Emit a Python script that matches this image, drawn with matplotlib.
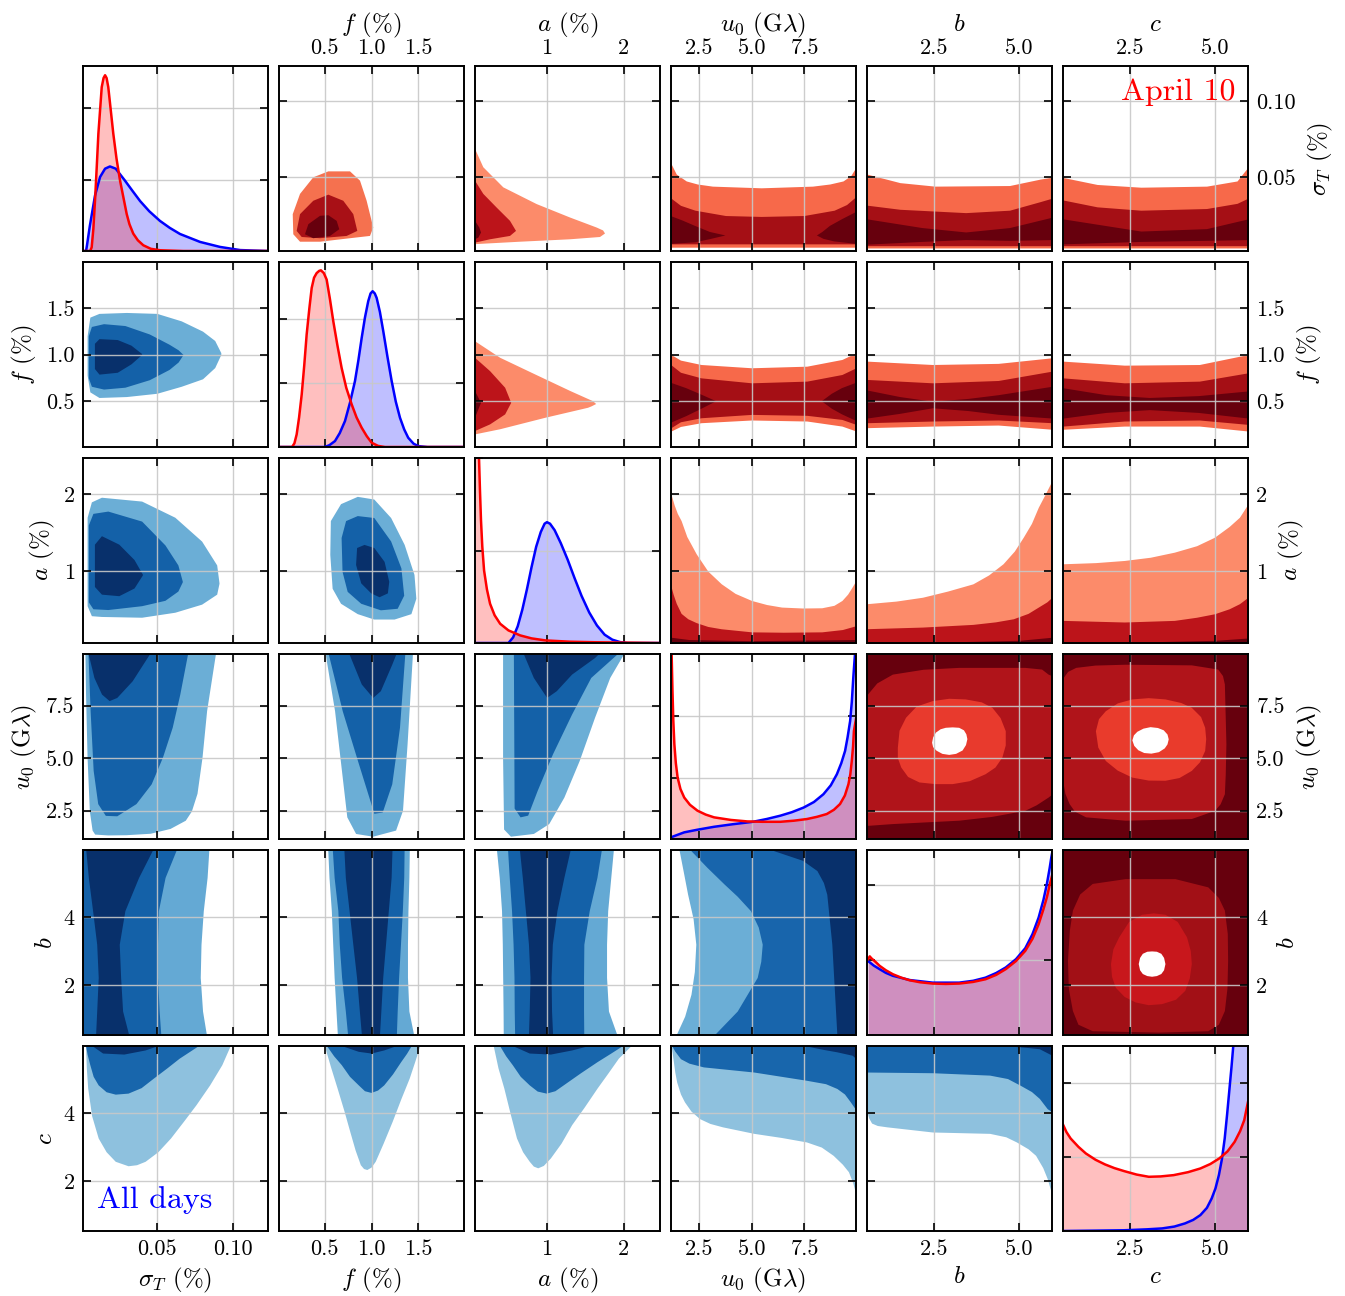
import matplotlib.pyplot as plt

plt.rcParams['font.family'] = 'serif'
plt.rcParams['font.serif'] = ['cmr10']
plt.rcParams['mathtext.fontset'] = 'cm'
plt.rcParams['axes.formatter.use_mathtext'] = True

# ---- parameters -------------------------------------------------------------
param_labels = [r'$\sigma_T$ (%)', r'$f$ (%)', r'$a$ (%)', r'$u_0$ (G$\lambda$)', r'$b$', r'$c$']
param_limits = [(0.0015, 0.123), (0.01, 1.99), (0.065, 2.47), (1.15, 9.95), (0.55, 5.95), (0.55, 5.95)]
x_tick_values = [[0.05, 0.10], [0.5, 1.0, 1.5], [1, 2], [2.5, 5.0, 7.5], [2.5, 5.0], [2.5, 5.0]]
x_tick_labels = [['0.05', '0.10'], ['0.5', '1.0', '1.5'], ['1', '2'], ['2.5', '5.0', '7.5'], ['2.5', '5.0'], ['2.5', '5.0']]
y_tick_values = [[0.05, 0.10], [0.5, 1.0, 1.5], [1, 2], [2.5, 5.0, 7.5], [2, 4], [2, 4]]
y_tick_labels = [['0.05', '0.10'], ['0.5', '1.0', '1.5'], ['1', '2'], ['2.5', '5.0', '7.5'], ['2', '4'], ['2', '4']]
diag_tick_values = [[0.386, 0.772], [0.345, 0.69], [0.5, 1.0], [0.332, 0.664], [0.404, 0.81], [0.40, 0.80]]

# ---- 1D marginals (x, height as fraction of panel) ---------------------------
sig_all = ([0.0015, 0.0035, 0.0041, 0.006, 0.0094, 0.0127, 0.0160, 0.0192, 0.0230, 0.0291, 0.034, 0.039, 0.045,
            0.052, 0.0585, 0.0652, 0.0784, 0.0915, 0.1047, 0.123],
           [0, 0, 0.03, 0.136, 0.30, 0.40, 0.445, 0.457, 0.445, 0.38, 0.325, 0.27, 0.215,
            0.163, 0.125, 0.092, 0.049, 0.022, 0.005, 0])
sig_apr = ([0.0015, 0.0062, 0.0072, 0.0083, 0.0094, 0.0105, 0.0116, 0.0138, 0.015, 0.016, 0.017, 0.0181, 0.0214,
            0.0235, 0.0258, 0.0302, 0.032, 0.0345, 0.0375, 0.0411, 0.046, 0.0521, 0.0674, 0.123],
           [0, 0, 0.02, 0.12, 0.274, 0.45, 0.634, 0.886, 0.935, 0.95, 0.935, 0.886, 0.634,
            0.50, 0.382, 0.20, 0.145, 0.094, 0.058, 0.031, 0.012, 0.004, 0.0, 0.0])
f_all = ([0.01, 0.50, 0.55, 0.609, 0.66, 0.716, 0.77, 0.823, 0.86, 0.895, 0.93, 0.965, 0.99, 1.012, 1.035, 1.055,
          1.09, 1.126, 1.17, 1.216, 1.26, 1.305, 1.35, 1.393, 1.45, 1.50, 1.60, 1.99],
         [0, 0, 0.01, 0.032, 0.075, 0.14, 0.24, 0.356, 0.47, 0.59, 0.70, 0.788, 0.83, 0.842, 0.83, 0.806,
          0.73, 0.626, 0.49, 0.356, 0.245, 0.158, 0.095, 0.05, 0.018, 0.005, 0, 0])
f_apr = ([0.01, 0.15, 0.175, 0.199, 0.225, 0.253, 0.28, 0.306, 0.335, 0.36, 0.385, 0.413, 0.44, 0.459, 0.49, 0.52,
          0.555, 0.591, 0.635, 0.68, 0.73, 0.788, 0.84, 0.895, 0.95, 1.002, 1.07, 1.144, 1.99],
         [0, 0, 0.02, 0.068, 0.16, 0.284, 0.44, 0.608, 0.75, 0.86, 0.915, 0.94, 0.952, 0.955, 0.94, 0.905,
          0.80, 0.68, 0.55, 0.428, 0.32, 0.23, 0.16, 0.104, 0.058, 0.023, 0.006, 0, 0])
a_all = ([0.065, 0.50, 0.56, 0.62, 0.68, 0.74, 0.80, 0.86, 0.92, 0.97, 1.0, 1.04, 1.10, 1.18, 1.27, 1.36, 1.45,
          1.55, 1.65, 1.75, 1.85, 1.95, 2.05, 2.47],
         [0, 0, 0.03, 0.09, 0.18, 0.29, 0.41, 0.52, 0.60, 0.645, 0.653, 0.645, 0.61, 0.54, 0.45, 0.35, 0.255,
          0.165, 0.095, 0.045, 0.018, 0.005, 0, 0])
a_apr = ([0.065, 0.09, 0.117, 0.13, 0.143, 0.16, 0.183, 0.22, 0.261, 0.32, 0.392, 0.50, 0.653, 0.80, 0.98, 1.3,
          1.633, 2.47],
         [1.6, 1.25, 1.0, 0.82, 0.662, 0.52, 0.392, 0.29, 0.212, 0.15, 0.104, 0.068, 0.041, 0.025, 0.014, 0.007,
          0.004, 0.0])
u0_all = ([1.15, 1.4, 1.78, 2.4, 3.2, 4.1, 5.05, 5.7, 6.35, 6.9, 7.46, 7.95, 8.40, 8.75, 9.04, 9.25, 9.43, 9.55,
           9.67, 9.75, 9.82, 9.87, 9.90, 9.95],
          [0.009, 0.02, 0.036, 0.05, 0.066, 0.08, 0.093, 0.108, 0.126, 0.145, 0.17, 0.20, 0.242, 0.29, 0.35, 0.41,
           0.476, 0.55, 0.637, 0.74, 0.87, 0.95, 0.996, 1.1])
u0_apr = ([1.15, 1.18, 1.22, 1.26, 1.31, 1.38, 1.465, 1.6, 1.78, 2.05, 2.41, 2.8, 3.2, 4.0, 4.78, 5.5, 6.35, 7.0,
           7.62, 8.1, 8.56, 8.9, 9.19, 9.42, 9.59, 9.68, 9.75, 9.81, 9.85, 9.95],
          [1.3, 1.0, 0.80, 0.64, 0.512, 0.41, 0.332, 0.27, 0.224, 0.185, 0.153, 0.132, 0.117, 0.103, 0.095, 0.093,
           0.093, 0.099, 0.108, 0.12, 0.135, 0.158, 0.189, 0.235, 0.296, 0.35, 0.422, 0.50, 0.583, 0.65])
b_all = ([0.58, 0.75, 0.918, 1.1, 1.305, 1.8, 2.47, 3.24, 3.65, 4.01, 4.32, 4.60, 4.9, 5.17, 5.38, 5.56, 5.70,
          5.80, 5.88, 5.93, 5.95],
         [0.40, 0.375, 0.356, 0.336, 0.32, 0.297, 0.283, 0.283, 0.293, 0.31, 0.335, 0.365, 0.41, 0.469, 0.545,
          0.635, 0.73, 0.816, 0.90, 0.96, 0.98])
b_apr = ([0.58, 0.63, 0.676, 0.8, 0.918, 1.1, 1.305, 1.55, 1.79, 2.1, 2.47, 2.85, 3.24, 3.65, 4.01, 4.32, 4.60,
          4.9, 5.17, 5.38, 5.56, 5.70, 5.80, 5.88, 5.95],
         [0.41, 0.425, 0.415, 0.395, 0.374, 0.35, 0.3285, 0.31, 0.296, 0.285, 0.278, 0.276, 0.278, 0.287, 0.3014,
          0.325, 0.356, 0.40, 0.455, 0.52, 0.599, 0.68, 0.744, 0.81, 0.86])
c_all = ([0.55, 1.5, 2.33, 3.0, 3.445, 3.8, 4.11, 4.35, 4.56, 4.75, 4.89, 5.0, 5.1, 5.19, 5.27, 5.34, 5.41, 5.47,
          5.52, 5.58, 5.7, 5.95],
         [0.0, 0.002, 0.004, 0.009, 0.014, 0.024, 0.041, 0.06, 0.086, 0.125, 0.176, 0.23, 0.302, 0.39, 0.50, 0.63,
          0.77, 0.89, 1.0, 1.12, 1.35, 1.8])
c_apr = ([0.55, 0.65, 0.773, 1.0, 1.218, 1.5, 1.775, 2.05, 2.33, 2.7, 3.055, 3.4, 3.78, 4.2, 4.56, 4.85, 5.11,
          5.35, 5.56, 5.72, 5.84, 5.95],
         [0.5755, 0.535, 0.50, 0.455, 0.419, 0.385, 0.36, 0.34, 0.324, 0.305, 0.293, 0.295, 0.302, 0.318, 0.338,
          0.362, 0.392, 0.43, 0.482, 0.54, 0.599, 0.698])

# ---- All days (blue), lower triangle ----------------------------------------
# bands along x: (x, lower y, upper y)
f_sig_light = ([0.0042, 0.006, 0.012, 0.03, 0.05, 0.066, 0.08, 0.088, 0.092],
               [0.78, 0.60, 0.54, 0.55, 0.585, 0.66, 0.74, 0.86, 1.00],
               [1.20, 1.40, 1.44, 1.45, 1.44, 1.36, 1.25, 1.15, 1.02])
f_sig_mid = ([0.0050, 0.007, 0.015, 0.029, 0.045, 0.058, 0.064, 0.0672],
             [0.75, 0.66, 0.63, 0.65, 0.73, 0.84, 0.92, 1.00],
             [1.20, 1.30, 1.33, 1.31, 1.22, 1.11, 1.05, 1.00])
f_sig_dark = ([0.009, 0.012, 0.024, 0.033, 0.040],
              [0.85, 0.79, 0.81, 0.90, 1.00],
              [1.12, 1.17, 1.16, 1.10, 1.01])

a_sig_light = ([0.0042, 0.007, 0.0136, 0.040, 0.0618, 0.0794, 0.0893, 0.0908],
               [0.55, 0.42, 0.41, 0.40, 0.465, 0.57, 0.70, 0.84],
               [1.70, 1.90, 1.96, 1.91, 1.70, 1.39, 1.08, 0.85])
a_sig_mid = ([0.0050, 0.008, 0.0178, 0.040, 0.0553, 0.0638, 0.0667],
             [0.60, 0.51, 0.50, 0.55, 0.62, 0.74, 0.86],
             [1.60, 1.75, 1.78, 1.65, 1.34, 1.08, 0.87])
a_sig_dark = ([0.0090, 0.0136, 0.025, 0.035, 0.0405],
              [0.80, 0.70, 0.68, 0.78, 0.95],
              [1.35, 1.46, 1.35, 1.15, 0.96])

# closed outlines: (x, y)
a_f_light = ([0.674, 0.853, 1.03, 1.21, 1.355, 1.46, 1.48, 1.427, 1.247, 1.03, 0.853, 0.674, 0.584, 0.559, 0.565],
             [1.87, 1.965, 1.93, 1.69, 1.34, 0.95, 0.64, 0.44, 0.37, 0.37, 0.44, 0.575, 0.77, 1.21, 1.65])
a_f_mid = ([0.853, 1.03, 1.21, 1.32, 1.35, 1.28, 1.10, 0.89, 0.745, 0.69, 0.68, 0.728],
           [1.715, 1.69, 1.385, 1.035, 0.68, 0.51, 0.49, 0.575, 0.73, 0.99, 1.43, 1.65])
a_f_dark = ([0.925, 1.03, 1.14, 1.19, 1.175, 1.086, 0.997, 0.89, 0.835, 0.846],
            [1.34, 1.30, 1.12, 0.86, 0.71, 0.66, 0.71, 0.84, 1.08, 1.30])

u0_sig_light = ([0.003, 0.090, 0.083, 0.080, 0.0767, 0.073, 0.069, 0.059, 0.046, 0.030, 0.018, 0.0095, 0.0078,
                 0.006, 0.0045, 0.0035],
                [10.5, 10.5, 7.23, 5.02, 3.30, 2.46, 2.02, 1.63, 1.40, 1.33, 1.32, 1.36, 1.55, 2.46, 5.0, 8.0])
u0_sig_mid = ([0.0048, 0.072, 0.0654, 0.0604, 0.054, 0.0466, 0.0366, 0.024, 0.0165, 0.0115, 0.0085, 0.0065],
              [10.5, 10.5, 8.02, 6.44, 5.02, 3.75, 2.81, 2.23, 2.25, 2.81, 4.39, 7.23])
u0_sig_dark = ([0.003, 0.0505, 0.0341, 0.024, 0.019, 0.014, 0.009, 0.0053],
               [10.5, 10.5, 8.65, 7.86, 7.71, 8.02, 8.81, 9.92])

u0_f_light = ([0.50, 0.61, 0.692, 0.741, 0.835, 1.018, 1.263, 1.337, 1.386, 1.447],
              [10.2, 7.23, 4.07, 2.18, 1.39, 1.26, 1.55, 2.49, 5.65, 10.2])
u0_f_mid = ([0.528, 0.692, 0.855, 0.977, 1.03, 1.12, 1.222, 1.305, 1.366],
            [10.2, 7.23, 4.86, 3.12, 2.35, 2.41, 3.75, 6.44, 10.2])
u0_f_dark = ([0.74, 0.896, 1.018, 1.10, 1.222, 1.29],
             [10.2, 8.5, 7.86, 8.18, 9.44, 10.2])

u0_a_light = ([0.43, 0.43, 0.443, 0.532, 0.83, 1.03, 1.227, 1.426, 1.626, 1.823, 2.0, 2.05],
              [10.2, 5.0, 1.6, 1.26, 1.39, 1.86, 3.12, 4.86, 6.92, 8.81, 9.92, 10.2])
u0_a_mid = ([0.57, 0.58, 0.657, 0.756, 0.88, 1.079, 1.327, 1.576, 1.924, 1.95],
            [10.2, 2.6, 2.18, 2.26, 3.44, 5.18, 7.07, 8.81, 9.95, 10.2])
u0_a_dark = ([0.67, 0.83, 1.003, 1.128, 1.327, 1.626, 1.75],
             [10.2, 8.81, 7.86, 8.18, 8.97, 9.76, 10.2])

# bands along y: (y, left x, right x)
b_rows = [0.3, 1.25, 2.23, 3.20, 4.18, 5.15, 6.2]
b_sig_light = (b_rows, 0.0, [0.0835, 0.080, 0.0785, 0.079, 0.0805, 0.083, 0.0845])
b_sig_mid = (b_rows, 0.0, [0.053, 0.0515, 0.0505, 0.0505, 0.051, 0.0554, 0.065])
b_sig_dark = (b_rows, [0.0095, 0.0105, 0.0115, 0.0105, 0.0078, 0.005, 0.0028],
              [0.033, 0.0275, 0.0262, 0.0253, 0.029, 0.038, 0.050])

b_f_light = (b_rows, [0.64, 0.62, 0.60, 0.585, 0.57, 0.545, 0.528], [1.47, 1.40, 1.385, 1.385, 1.39, 1.40, 1.406])
b_f_mid = (b_rows, [0.753, 0.72, 0.68, 0.655, 0.64, 0.60, 0.575], [1.263, 1.275, 1.29, 1.31, 1.33, 1.345, 1.35])
b_f_dark = (b_rows, [0.90, 0.87, 0.84, 0.80, 0.76, 0.72, 0.70], [1.08, 1.10, 1.12, 1.15, 1.18, 1.21, 1.222])

b_a_light = (b_rows, [0.433, 0.43, 0.425, 0.42, 0.41, 0.38, 0.333], [1.95, 1.80, 1.775, 1.775, 1.79, 1.83, 1.874])
b_a_mid = (b_rows, [0.582, 0.575, 0.572, 0.56, 0.54, 0.51, 0.482], [1.48, 1.476, 1.476, 1.48, 1.55, 1.65, 1.725])
b_a_dark = (b_rows, [0.756, 0.77, 0.78, 0.76, 0.72, 0.68, 0.631], [1.079, 1.06, 1.054, 1.07, 1.13, 1.22, 1.327])

b_u0_light = ([0.3, 0.55, 1.1, 1.74, 2.4, 3.2, 3.95, 4.66, 5.3, 5.93, 6.2],
              [1.3, 1.39, 1.80, 2.10, 2.26, 2.33, 2.20, 1.94, 1.74, 1.54, 1.5], 10.5)
b_u0_mid = ([0.3, 0.55, 1.25, 2.23, 2.7, 3.20, 3.7, 4.18, 4.6, 4.96, 5.45, 5.93, 6.2],
            [3.1, 3.20, 4.30, 5.25, 5.42, 5.49, 5.30, 4.93, 4.30, 3.67, 2.85, 2.10, 1.9], 10.5)
b_u0_dark = ([0.3, 0.55, 3.2, 4.66, 5.0, 5.35, 5.65, 5.93, 6.2],
             [9.1, 9.04, 8.80, 8.56, 8.40, 8.09, 7.40, 6.04, 5.7], 10.5)

c_sig_light = ([0.003, 0.0035, 0.0040, 0.0049, 0.0075, 0.0118, 0.017, 0.023, 0.0314, 0.037, 0.0426, 0.051, 0.0593,
                0.068, 0.076, 0.085, 0.093, 0.101],
               [6.2, 5.95, 5.3, 4.71, 3.9, 3.25, 2.85, 2.57, 2.44, 2.47, 2.57, 2.85, 3.25,
                3.75, 4.22, 4.8, 5.39, 6.2])
c_sig_mid = ([0.003, 0.0035, 0.0045, 0.0063, 0.0085, 0.0118, 0.017, 0.023, 0.0314, 0.040, 0.0481, 0.057, 0.065,
              0.076, 0.086],
             [6.2, 5.95, 5.7, 5.39, 5.05, 4.80, 4.60, 4.53, 4.56, 4.72, 5.0, 5.3, 5.58, 5.90, 6.2])
c_sig_dark = ([0.006, 0.0076, 0.0147, 0.0286, 0.0426, 0.051, 0.053],
              [6.2, 5.95, 5.73, 5.70, 5.82, 5.95, 6.2])

c_f_light = ([0.49, 0.50, 0.57, 0.637, 0.71, 0.773, 0.83, 0.886, 0.92, 0.955, 1.0, 1.045, 1.13, 1.227, 1.32,
              1.409, 1.47, 1.522, 1.53],
             [6.2, 5.95, 5.3, 4.71, 4.05, 3.44, 2.9, 2.47, 2.36, 2.33, 2.40, 2.57, 3.1, 3.74, 4.4,
              5.0, 5.5, 5.95, 6.2])
c_f_mid = ([0.51, 0.523, 0.60, 0.682, 0.77, 0.864, 0.93, 1.0, 1.07, 1.136, 1.23, 1.318, 1.38, 1.431, 1.44],
           [6.2, 5.95, 5.65, 5.39, 5.05, 4.80, 4.63, 4.58, 4.65, 4.80, 5.12, 5.48, 5.72, 5.95, 6.2])
c_f_dark = ([0.68, 0.682, 0.864, 1.0, 1.136, 1.272, 1.28],
            [6.2, 5.95, 5.78, 5.73, 5.82, 5.95, 6.2])

c_a_light = ([0.30, 0.308, 0.37, 0.446, 0.53, 0.611, 0.69, 0.777, 0.83, 0.887, 0.96, 1.052, 1.19, 1.328, 1.49,
              1.659, 1.80, 1.935, 2.101, 2.12],
             [6.2, 5.95, 5.3, 4.71, 3.95, 3.25, 2.85, 2.57, 2.43, 2.38, 2.45, 2.67, 3.1, 3.64, 4.15,
              4.71, 5.15, 5.58, 5.95, 6.2])
c_a_mid = ([0.38, 0.39, 0.47, 0.556, 0.66, 0.777, 0.88, 0.997, 1.11, 1.218, 1.44, 1.659, 1.83, 1.99, 2.0],
           [6.2, 5.95, 5.65, 5.39, 5.05, 4.80, 4.62, 4.56, 4.63, 4.80, 5.15, 5.48, 5.72, 5.95, 6.2])
c_a_dark = ([0.55, 0.556, 0.777, 1.052, 1.328, 1.55, 1.56],
            [6.2, 5.95, 5.73, 5.70, 5.82, 5.95, 6.2])

c_u0_light = ([1.15, 1.33, 1.42, 1.60, 1.79, 2.1, 2.51, 3.0, 3.60, 5.09, 6.4, 7.59, 8.3, 8.86, 9.3, 9.59, 9.80, 9.95],
              [6.0, 5.19, 4.90, 4.55, 4.32, 4.05, 3.83, 3.69, 3.59, 3.40, 3.28, 3.15, 3.0, 2.76, 2.50, 2.28, 1.95, 1.60],
              6.3)
c_u0_mid = ([1.15, 1.33, 1.60, 2.0, 2.69, 5.09, 7.59, 8.5, 9.04, 9.4, 9.68, 9.95],
            [6.0, 5.8, 5.58, 5.45, 5.34, 5.19, 4.95, 4.85, 4.71, 4.55, 4.32, 4.08], 6.3)
c_u0_dark = ([7.0, 7.59, 8.4, 9.04, 9.77, 9.95], [6.2, 5.95, 5.85, 5.78, 5.68, 5.58], 6.3)

c_b_light = ([0.55, 0.6, 0.684, 0.85, 1.13, 2.46, 4.13, 4.6, 4.91, 5.25, 5.47, 5.68, 5.81, 5.95],
             [4.03, 3.85, 3.70, 3.63, 3.59, 3.44, 3.40, 3.30, 3.15, 2.95, 2.76, 2.40, 2.08, 1.60], 6.3)
c_b_mid = ([0.55, 2.46, 4.13, 4.65, 5.03, 5.35, 5.58, 5.81, 5.95],
           [5.19, 5.17, 5.10, 5.00, 4.80, 4.62, 4.42, 4.12, 4.03], 6.3)
c_b_dark = ([4.5, 4.69, 5.2, 5.58, 5.95], [6.2, 5.95, 5.91, 5.87, 5.68], 6.3)

# ---- April 10 (red), upper triangle -----------------------------------------
sig_f_light = ([0.163, 0.157, 0.235, 0.377, 0.538, 0.77, 0.877, 0.948, 1.019, 0.984, 0.77, 0.449, 0.235],
               [0.0125, 0.0257, 0.039, 0.0499, 0.0538, 0.0538, 0.0477, 0.0345, 0.0169, 0.0114, 0.0099, 0.0076, 0.0076])
sig_f_mid = ([0.199, 0.235, 0.377, 0.538, 0.698, 0.805, 0.848, 0.734, 0.449, 0.253],
             [0.0147, 0.0257, 0.0345, 0.0385, 0.0345, 0.0257, 0.0147, 0.0114, 0.0099, 0.0107])
sig_f_dark = ([0.288, 0.324, 0.449, 0.538, 0.627, 0.655, 0.556, 0.377],
              [0.0125, 0.0191, 0.0246, 0.025, 0.0213, 0.0158, 0.0114, 0.0099])

sig_a_light = ([0.0, 0.065, 0.173, 0.433, 0.867, 1.30, 1.647, 1.73, 1.755, 1.69, 1.30, 0.65, 0.173, 0.065, 0.0],
               [0.0686, 0.0686, 0.0565, 0.0433, 0.0323, 0.0235, 0.0169, 0.0150, 0.0130, 0.0107, 0.0092, 0.0076,
                0.0063, 0.006, 0.006])
sig_a_mid = ([0.0, 0.065, 0.173, 0.347, 0.52, 0.598, 0.52, 0.26, 0.065, 0.0],
             [0.0477, 0.0477, 0.039, 0.030, 0.0213, 0.0147, 0.0114, 0.0092, 0.0070, 0.0070])
sig_a_dark = ([0.0, 0.065, 0.121, 0.143, 0.108, 0.065, 0.0],
              [0.0213, 0.0213, 0.0169, 0.0136, 0.0103, 0.0092, 0.0092])

sig_u0_light = ([1.15, 1.4, 1.875, 2.4, 3.12, 5.44, 7.88, 8.7, 9.33, 9.7, 9.95], 0.004,
                [0.0589, 0.052, 0.0475, 0.0455, 0.0441, 0.043, 0.0441, 0.0455, 0.0475, 0.051, 0.0566])
sig_u0_mid = ([1.15, 1.6, 2.29, 3.74, 5.44, 7.47, 8.91, 9.5, 9.95], 0.0062,
              [0.0362, 0.0315, 0.0283, 0.0248, 0.0242, 0.0248, 0.0283, 0.032, 0.0373])
sig_u0_dark_left = ([1.0, 1.15, 1.7, 2.29, 3.0, 3.74, 3.0, 2.29, 1.15, 1.0],
                    [0.0244, 0.0244, 0.0215, 0.0180, 0.0140, 0.0117, 0.0093, 0.0072, 0.0062, 0.0062])
sig_u0_dark_right = ([10.2, 9.95, 9.3, 8.71, 8.35, 8.09, 8.4, 8.91, 9.95, 10.2],
                     [0.0271, 0.0271, 0.0225, 0.0180, 0.0140, 0.0117, 0.0095, 0.0078, 0.0062, 0.0062])

sig_b_light = ([0.55, 1.51, 2.53, 4.71, 5.60, 5.95], 0.0035, [0.052, 0.0464, 0.0441, 0.0445, 0.0487, 0.050])
sig_b_mid = ([0.55, 1.51, 3.43, 4.71, 5.60, 5.95], 0.005, [0.0316, 0.0289, 0.0267, 0.0283, 0.0339, 0.0362])
sig_b_dark = ([0.55, 2.15, 3.43, 4.71, 5.95], [0.006, 0.0078, 0.009, 0.0085, 0.009],
              [0.0226, 0.0169, 0.014, 0.0169, 0.0237])

sig_c_light = ([0.55, 1.545, 2.82, 4.74, 5.63, 5.95], 0.0035, [0.0498, 0.0452, 0.0434, 0.0441, 0.0475, 0.0566])
sig_c_mid = ([0.55, 1.545, 2.82, 4.74, 5.63, 5.95], 0.005, [0.035, 0.0305, 0.0283, 0.0294, 0.0328, 0.0362])
sig_c_dark = ([0.55, 2.82, 4.74, 5.95], [0.0062, 0.0078, 0.0085, 0.009], [0.0226, 0.0146, 0.0162, 0.0226])

f_a_light = ([0.0, 0.065, 0.392, 0.849, 1.307, 1.60, 1.64, 1.58, 1.535, 0.98, 0.392, 0.065, 0.0],
             [1.142, 1.142, 0.965, 0.786, 0.608, 0.50, 0.47, 0.445, 0.43, 0.323, 0.20, 0.145, 0.145])
f_a_mid = ([0.0, 0.065, 0.261, 0.457, 0.536, 0.457, 0.261, 0.065, 0.0],
           [0.965, 0.965, 0.822, 0.644, 0.483, 0.359, 0.252, 0.181, 0.181])
f_a_dark = ([0.0, 0.065, 0.143, 0.065, 0.0], [0.608, 0.608, 0.483, 0.323, 0.323])

f_u0_x = [1.15, 1.6, 2.58, 4.98, 7.61, 9.28, 9.95]
f_u0_light = (f_u0_x, [0.181, 0.23, 0.27, 0.299, 0.288, 0.234, 0.181], [1.0, 0.94, 0.893, 0.858, 0.875, 0.947, 1.018])
f_u0_mid = (f_u0_x, [0.217, 0.28, 0.323, 0.359, 0.349, 0.305, 0.252], [0.89, 0.81, 0.75, 0.697, 0.715, 0.786, 0.858])
f_u0_dark_left = ([1.0, 1.15, 1.87, 2.6, 3.30, 2.6, 1.87, 1.15, 1.0],
                  [0.697, 0.697, 0.64, 0.57, 0.50, 0.42, 0.34, 0.27, 0.27])
f_u0_dark_right = ([10.2, 9.95, 9.28, 8.8, 8.32, 8.8, 9.28, 9.95, 10.2],
                   [0.697, 0.697, 0.64, 0.58, 0.50, 0.42, 0.36, 0.29, 0.29])

f_b_x = [0.55, 2.46, 4.38, 5.95]
f_b_light = (f_b_x, [0.217, 0.234, 0.245, 0.20], [0.929, 0.893, 0.905, 0.965])
f_b_mid = (f_b_x, [0.27, 0.288, 0.299, 0.27], [0.733, 0.697, 0.722, 0.822])
f_b_dark = ([0.55, 1.5, 2.46, 3.5, 4.38, 5.95], [0.32, 0.37, 0.43, 0.40, 0.36, 0.32], [0.62, 0.55, 0.50, 0.53, 0.57, 0.66])

f_c_x = [0.55, 2.34, 4.53, 5.95]
f_c_light = (f_c_x, [0.20, 0.234, 0.234, 0.181], [0.929, 0.886, 0.893, 1.0])
f_c_mid = (f_c_x, [0.234, 0.288, 0.299, 0.252], [0.75, 0.697, 0.715, 0.804])
f_c_dark = ([0.55, 1.8, 3.07, 4.5, 5.95], [0.32, 0.38, 0.41, 0.38, 0.32], [0.644, 0.57, 0.54, 0.56, 0.61])

a_u0_light = ([1.15, 1.3, 1.45, 1.63, 1.9, 2.35, 2.9, 3.54, 4.2, 4.98, 5.7, 6.41, 7.4, 8.32, 8.9, 9.28, 9.55, 9.76, 9.95],
              0.0,
              [2.00, 1.86, 1.75, 1.657, 1.45, 1.224, 1.0, 0.835, 0.71, 0.618, 0.565, 0.532, 0.52, 0.523, 0.555,
               0.618, 0.70, 0.791, 0.878])
a_u0_mid = ([1.15, 1.25, 1.4, 1.63, 1.95, 2.35, 2.9, 3.54, 4.98, 6.5, 8.32, 9.3, 9.95], 0.0,
            [0.80, 0.70, 0.58, 0.45, 0.38, 0.33, 0.28, 0.25, 0.21, 0.205, 0.21, 0.24, 0.29])
a_u0_dark = ([1.15, 2.0, 5.0, 9.95], 0.0, [0.14, 0.11, 0.095, 0.11])

a_b_light = ([0.55, 1.4, 2.17, 2.9, 3.64, 4.1, 4.52, 4.85, 5.11, 5.35, 5.55, 5.75, 5.95], 0.0,
             [0.576, 0.61, 0.66, 0.74, 0.834, 0.95, 1.095, 1.26, 1.44, 1.62, 1.83, 2.0, 2.176])
a_b_mid = ([0.55, 2.17, 3.64, 4.3, 4.82, 5.25, 5.55, 5.8, 5.95], 0.0,
           [0.251, 0.272, 0.307, 0.34, 0.38, 0.45, 0.532, 0.60, 0.66])
a_b_dark = ([0.55, 3.0, 5.0, 5.95], 0.0, [0.075, 0.08, 0.1, 0.14])

a_c_light = ([0.55, 1.5, 2.34, 3.1, 3.80, 4.45, 4.97, 5.4, 5.70, 5.95], 0.0,
             [1.095, 1.11, 1.138, 1.18, 1.246, 1.33, 1.44, 1.58, 1.70, 1.873])
a_c_mid = ([0.55, 2.34, 3.80, 4.45, 4.97, 5.4, 5.70, 5.95], 0.0,
           [0.359, 0.338, 0.359, 0.40, 0.445, 0.51, 0.576, 0.66])
a_c_dark = ([0.55, 3.0, 5.0, 5.95], 0.0, [0.075, 0.08, 0.1, 0.13])

u0_b_mid = ([0.4, 0.579, 0.85, 1.305, 2.2, 3.24, 5.17, 5.66, 5.85, 6.1, 6.1, 5.85, 5.5, 5.17, 4.2, 3.24, 1.305,
             0.627, 0.4],
            [8.02, 8.02, 8.55, 8.97, 9.2, 9.29, 9.29, 9.21, 8.97, 8.8, 3.44, 3.12, 2.75, 2.49, 2.2, 2.02, 1.86,
             1.78, 1.78])
u0_b_light = ([1.45, 1.50, 1.69, 2.0, 2.47, 2.95, 3.43, 3.90, 4.21, 4.45, 4.60, 4.60, 4.50, 4.30, 4.01, 3.55,
               3.05, 2.55, 2.08, 1.75, 1.55, 1.45],
              [5.49, 6.3, 6.92, 7.45, 7.71, 7.82, 7.79, 7.65, 7.39, 6.9, 6.28, 5.60, 5.02, 4.55, 4.23, 3.90,
               3.76, 3.76, 3.84, 4.10, 4.55, 5.0])
u0_b_hole = ([2.45, 2.48, 2.56, 2.70, 2.85, 3.05, 3.24, 3.38, 3.45, 3.48, 3.44, 3.34, 3.15, 2.95, 2.75, 2.58, 2.48],
             [5.73, 5.98, 6.21, 6.37, 6.44, 6.46, 6.44, 6.32, 6.13, 5.90, 5.62, 5.36, 5.20, 5.15, 5.20, 5.35, 5.52])

u0_c_mid = ([0.4, 0.57, 0.70, 0.936, 1.5, 2.38, 4.31, 5.08, 5.22, 5.275, 5.32, 5.30, 5.275, 5.15, 4.99, 4.31,
             2.38, 1.225, 0.90, 0.743, 0.62, 0.57, 0.4],
            [8.81, 8.81, 9.1, 9.29, 9.40, 9.44, 9.41, 9.21, 8.9, 8.50, 5.65, 4.2, 3.28, 2.80, 2.49, 2.10,
             2.02, 2.18, 2.45, 2.81, 3.3, 3.76, 3.76])
u0_c_light = ([1.51, 1.60, 1.80, 2.15, 2.575, 3.05, 3.54, 4.00, 4.31, 4.58, 4.70, 4.73, 4.70, 4.55, 4.31, 3.95,
               3.54, 3.05, 2.575, 2.15, 1.80, 1.58],
              [6.28, 6.85, 7.23, 7.60, 7.79, 7.85, 7.79, 7.62, 7.39, 6.95, 6.44, 5.90, 5.34, 4.80, 4.39, 4.05,
               3.92, 3.93, 4.07, 4.40, 4.86, 5.50])
u0_c_hole = ([2.575, 2.62, 2.72, 2.90, 3.105, 3.32, 3.49, 3.60, 3.636, 3.60, 3.52, 3.35, 3.13, 2.92, 2.75, 2.63],
             [5.84, 6.08, 6.25, 6.40, 6.47, 6.43, 6.32, 6.12, 5.89, 5.65, 5.46, 5.28, 5.21, 5.24, 5.37, 5.58])

b_c_mid = ([0.695, 0.75, 0.839, 1.05, 1.418, 2.38, 3.83, 4.79, 5.1, 5.275, 5.36, 5.37, 5.35, 5.275, 5.1, 4.79,
            3.35, 1.418, 1.0, 0.839, 0.72],
           [2.71, 3.6, 4.18, 4.65, 4.96, 5.10, 5.10, 4.86, 4.55, 4.18, 3.5, 2.71, 1.9, 1.25, 0.85, 0.66,
            0.62, 0.66, 0.85, 1.25, 1.9])
b_c_light = ([1.95, 2.02, 2.19, 2.48, 2.86, 3.2, 3.54, 3.90, 4.17, 4.28, 4.31, 4.25, 4.12, 3.85, 3.44, 3.05,
              2.67, 2.35, 2.09, 1.98],
             [2.62, 3.05, 3.40, 3.85, 4.06, 4.10, 4.06, 3.85, 3.40, 3.0, 2.62, 2.2, 1.84, 1.58, 1.45, 1.42,
              1.50, 1.66, 1.93, 2.25])
b_c_hole = ([2.76, 2.80, 2.88, 3.01, 3.15, 3.29, 3.42, 3.50, 3.54, 3.50, 3.42, 3.29, 3.15, 3.01, 2.88, 2.80],
            [2.62, 2.80, 2.92, 2.98, 2.99, 2.98, 2.92, 2.80, 2.62, 2.44, 2.33, 2.27, 2.25, 2.27, 2.33, 2.44])

# ---- colours ----------------------------------------------------------------
blues = ['#6baed6', '#1461a8', '#08306b']
blues_pale = ['#8ec1de', '#1866ac', '#08306b']
reds_a = ['#f5714f', '#a81016', '#67000d']
reds_b = ['#fc8b6a', '#bc141a', '#67000d']
reds_c = ['#f7694a', '#a50f15', '#67000d']
dark_red = '#67000d'

# panel table: (row, col) -> list of (kind, data, colour)
panels = {
    (1, 0): [('band', f_sig_light, blues[0]), ('band', f_sig_mid, blues[1]), ('band', f_sig_dark, blues[2])],
    (2, 0): [('band', a_sig_light, blues[0]), ('band', a_sig_mid, blues[1]), ('band', a_sig_dark, blues[2])],
    (2, 1): [('poly', a_f_light, blues[0]), ('poly', a_f_mid, blues[1]), ('poly', a_f_dark, blues[2])],
    (3, 0): [('poly', u0_sig_light, blues[0]), ('poly', u0_sig_mid, blues[1]), ('poly', u0_sig_dark, blues[2])],
    (3, 1): [('poly', u0_f_light, blues[0]), ('poly', u0_f_mid, blues[1]), ('poly', u0_f_dark, blues[2])],
    (3, 2): [('poly', u0_a_light, blues[0]), ('poly', u0_a_mid, blues[1]), ('poly', u0_a_dark, blues[2])],
    (4, 0): [('vband', b_sig_light, '#64a9d4'), ('vband', b_sig_mid, blues[1]), ('vband', b_sig_dark, blues[2])],
    (4, 1): [('vband', b_f_light, '#64a9d4'), ('vband', b_f_mid, blues[1]), ('vband', b_f_dark, blues[2])],
    (4, 2): [('vband', b_a_light, '#64a9d4'), ('vband', b_a_mid, blues[1]), ('vband', b_a_dark, blues[2])],
    (4, 3): [('vband', b_u0_light, blues[0]), ('vband', b_u0_mid, '#1865ac'), ('vband', b_u0_dark, blues[2])],
    (5, 0): [('poly', c_sig_light, blues_pale[0]), ('poly', c_sig_mid, blues_pale[1]), ('poly', c_sig_dark, blues_pale[2])],
    (5, 1): [('poly', c_f_light, blues_pale[0]), ('poly', c_f_mid, blues_pale[1]), ('poly', c_f_dark, blues_pale[2])],
    (5, 2): [('poly', c_a_light, blues_pale[0]), ('poly', c_a_mid, blues_pale[1]), ('poly', c_a_dark, blues_pale[2])],
    (5, 3): [('band', c_u0_light, blues_pale[0]), ('band', c_u0_mid, blues_pale[1]), ('band', c_u0_dark, blues_pale[2])],
    (5, 4): [('band', c_b_light, blues_pale[0]), ('band', c_b_mid, blues_pale[1]), ('band', c_b_dark, blues_pale[2])],
    (0, 1): [('poly', sig_f_light, reds_a[0]), ('poly', sig_f_mid, reds_a[1]), ('poly', sig_f_dark, reds_a[2])],
    (0, 2): [('poly', sig_a_light, reds_b[0]), ('poly', sig_a_mid, reds_b[1]), ('poly', sig_a_dark, reds_b[2])],
    (0, 3): [('band', sig_u0_light, reds_c[0]), ('band', sig_u0_mid, reds_c[1]),
             ('poly', sig_u0_dark_left, reds_c[2]), ('poly', sig_u0_dark_right, reds_c[2])],
    (0, 4): [('band', sig_b_light, reds_c[0]), ('band', sig_b_mid, reds_c[1]), ('band', sig_b_dark, reds_c[2])],
    (0, 5): [('band', sig_c_light, reds_c[0]), ('band', sig_c_mid, reds_c[1]), ('band', sig_c_dark, reds_c[2])],
    (1, 2): [('poly', f_a_light, reds_b[0]), ('poly', f_a_mid, reds_b[1]), ('poly', f_a_dark, reds_b[2])],
    (1, 3): [('band', f_u0_light, reds_c[0]), ('band', f_u0_mid, reds_c[1]),
             ('poly', f_u0_dark_left, reds_c[2]), ('poly', f_u0_dark_right, reds_c[2])],
    (1, 4): [('band', f_b_light, reds_c[0]), ('band', f_b_mid, reds_c[1]), ('band', f_b_dark, reds_c[2])],
    (1, 5): [('band', f_c_light, reds_c[0]), ('band', f_c_mid, reds_c[1]), ('band', f_c_dark, reds_c[2])],
    (2, 3): [('band', a_u0_light, reds_b[0]), ('band', a_u0_mid, reds_b[1]), ('band', a_u0_dark, reds_b[2])],
    (2, 4): [('band', a_b_light, reds_b[0]), ('band', a_b_mid, reds_b[1]), ('band', a_b_dark, reds_b[2])],
    (2, 5): [('band', a_c_light, reds_b[0]), ('band', a_c_mid, reds_b[1]), ('band', a_c_dark, reds_b[2])],
    (3, 4): [('bg', None, dark_red), ('poly', u0_b_mid, '#b0141a'), ('poly', u0_b_light, '#e83a2d'),
             ('poly', u0_b_hole, 'white')],
    (3, 5): [('bg', None, dark_red), ('poly', u0_c_mid, '#b0141a'), ('poly', u0_c_light, '#e93b2c'),
             ('poly', u0_c_hole, 'white')],
    (4, 5): [('bg', None, dark_red), ('poly', b_c_mid, '#a21016'), ('poly', b_c_light, '#c8171c'),
             ('poly', b_c_hole, 'white')],
}
diagonals = [(sig_all, sig_apr), (f_all, f_apr), (a_all, a_apr), (u0_all, u0_apr), (b_all, b_apr), (c_all, c_apr)]

fig, axes = plt.subplots(6, 6, figsize=(13.45, 12.96), dpi=100)
fig.subplots_adjust(left=83 / 1345, right=1248 / 1345, bottom=1 - 1231 / 1296, top=1 - 66 / 1296,
                    wspace=11 / 185, hspace=11 / 185)

for i in range(6):
    for j in range(6):
        ax = axes[i, j]
        if i == j:
            (xb, yb), (xr, yr) = diagonals[i]
            ax.fill_between(xb, 0, yb, color='blue', alpha=0.25, lw=0)
            ax.fill_between(xr, 0, yr, color='red', alpha=0.25, lw=0)
            ax.plot(xb, yb, color='blue', lw=1.8)
            ax.plot(xr, yr, color='red', lw=1.8)
            ax.set_ylim(0, 1)
            ax.set_yticks(diag_tick_values[i])
        else:
            for kind, data, color in panels[(i, j)]:
                if kind == 'bg':
                    ax.set_facecolor(color)
                elif kind == 'band':
                    ax.fill_between(data[0], data[1], data[2], color=color, lw=0)
                elif kind == 'vband':
                    ax.fill_betweenx(data[0], data[1], data[2], color=color, lw=0)
                else:
                    ax.fill(data[0], data[1], color=color, lw=0)
            ax.set_ylim(param_limits[i])
            ax.set_yticks(y_tick_values[i])
            ax.set_yticklabels(y_tick_labels[i])
        ax.set_xlim(param_limits[j])
        ax.set_xticks(x_tick_values[j])
        ax.set_xticklabels(x_tick_labels[j])

        ax.set_axisbelow('line')
        ax.grid(True, color='#c8c8c8', lw=1.0, alpha=0.9)
        for sp in ax.spines.values():
            sp.set_linewidth(1.4)
        ax.tick_params(direction='in', top=True, right=True, length=5.5, width=1.2,
                       labelsize=16, pad=6,
                       labelbottom=(i == 5), labeltop=(i == 0 and j > 0),
                       labelleft=(j == 0 and i > 0), labelright=(j == 5 and i < 5))
        if i == 5:
            ax.set_xlabel(param_labels[j], fontsize=18, labelpad=5)
        if i == 0 and j > 0:
            ax.xaxis.set_label_position('top')
            ax.set_xlabel(param_labels[j], fontsize=18, labelpad=5)
        if j == 0 and i > 0:
            ax.set_ylabel(param_labels[i], fontsize=18, labelpad=5)
        if j == 5 and i < 5:
            ax.yaxis.set_label_position('right')
            ax.set_ylabel(param_labels[i], fontsize=18, labelpad=7)

axes[0, 5].text(0.93, 0.86, 'April 10', transform=axes[0, 5].transAxes, color='red',
                fontsize=23, ha='right', va='center')
axes[5, 0].text(0.075, 0.17, 'All days', transform=axes[5, 0].transAxes, color='blue',
                fontsize=23, ha='left', va='center')

fig.savefig('out.png', dpi=100)
